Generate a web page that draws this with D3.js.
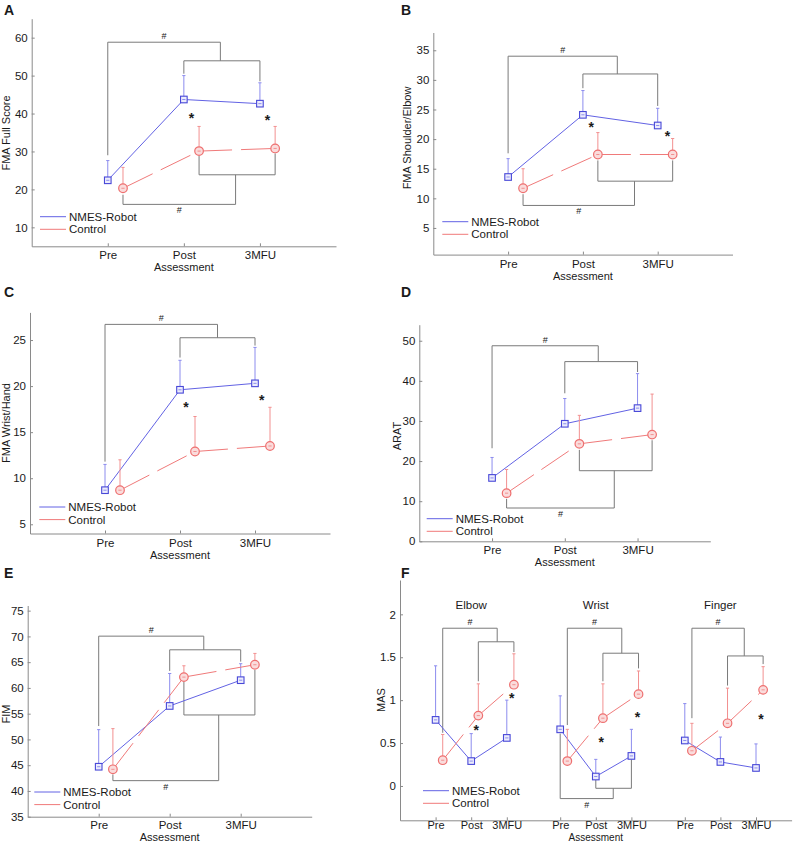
<!DOCTYPE html>
<html><head><meta charset="utf-8">
<script src="https://cdn.jsdelivr.net/npm/d3@7"></script>
<style>
body{margin:0;background:#fff}
svg{display:block}
text{font-family:"Liberation Sans",Arial,Helvetica,sans-serif;fill:#1a1a1a}
</style>
</head><body>
<svg id="chart" width="793" height="843"></svg>
<script>
// ---------------- DATA ----------------
const categories = ["Pre", "Post", "3MFU"];
const seriesNames = ["NMES-Robot", "Control"];
const assessmentTitle = "Assessment";

// Panel A: FMA Full Score (mean, SD)
const fmaFullNmes = [22.4, 43.7, 42.6];
const fmaFullNmesSD = [5.2, 6.3, 5.5];
const fmaFullCtrl = [20.3, 30.1, 30.8];
const fmaFullCtrlSD = [5.5, 6.5, 5.8];
const fmaFullTicks = [10, 20, 30, 40, 50, 60];
// brackets: [x1, x2, barValue, legEnd1, legEnd2, label]
const fmaFullBrackets = [[1, 2.48, 58.8, 29.0, 53.9, "#"], [2, 3, 53.9, 50.5, 48.5, ""],
  [1.2, 2.68, 16.05, 18.6, 23.85, "#"], [2.2, 3.2, 23.85, 28.8, 29.5, ""]];
const fmaFullStars = [[2.10, 39.7], [3.10, 39.05]];

// Panel B: FMA Shoulder/Elbow
const fmaSENmes = [13.6, 24.1, 22.3];
const fmaSENmesSD = [3.1, 4.1, 2.9];
const fmaSECtrl = [11.7, 17.4, 17.4];
const fmaSECtrlSD = [3.3, 3.7, 2.7];
const fmaSETicks = [5, 10, 15, 20, 25, 30, 35];
const fmaSEBrackets = [[1, 2.46, 34.0, 17.6, 31.0, "#"], [2, 3, 31.0, 28.6, 25.6, ""],
  [1.2, 2.69, 8.8, 10.7, 12.9, "#"], [2.2, 3.2, 12.9, 16.4, 16.4, ""]];
const fmaSEStars = [[2.11, 22.5], [3.13, 21.05]];

// Panel C: FMA Wrist/Hand
const fmaWHNmes = [8.7, 19.6, 20.3];
const fmaWHNmesSD = [2.8, 3.2, 3.9];
const fmaWHCtrl = [8.7, 12.9, 13.5];
const fmaWHCtrlSD = [3.3, 3.8, 4.2];
const fmaWHTicks = [5, 10, 15, 20, 25];
const fmaWHBrackets = [[1, 2.5, 26.7, 11.8, 25.25, "#"], [2, 3, 25.25, 23.1, 24.4, ""]];
const fmaWHStars = [[2.08, 18.05], [3.09, 18.8]];

// Panel D: ARAT
const aratNmes = [15.8, 29.3, 33.2];
const aratNmesSD = [5.1, 6.3, 8.6];
const aratCtrl = [12.0, 24.3, 26.6];
const aratCtrlSD = [5.9, 7.1, 10.1];
const aratTicks = [0, 10, 20, 30, 40, 50];
const aratBrackets = [[1, 2.46, 48.75, 23.2, 44.8, "#"], [2, 3, 44.8, 36.9, 42.2, ""],
  [1.2, 2.68, 8.3, 10.6, 17.6, "#"], [2.2, 3.2, 17.6, 22.8, 25.2, ""]];
const aratStars = [];

// Panel E: FIM
const fimNmes = [44.7, 56.5, 61.5];
const fimNmesSD = [7.2, 6.3, 3.2];
const fimCtrl = [44.2, 62.1, 64.5];
const fimCtrlSD = [7.9, 2.2, 2.2];
const fimTicks = [35, 40, 45, 50, 55, 60, 65, 70, 75];
const fimBrackets = [[1, 2.48, 70.05, 52.6, 67.4, "#"], [2, 3, 67.4, 63.3, 65.1, ""],
  [1.2, 2.69, 42.0, 43.2, 54.75, "#"], [2.2, 3.2, 54.75, 61.2, 63.5, ""]];
const fimStars = [];

// Panel F: MAS (Elbow, Wrist, Finger)
const masJoints = ["Elbow", "Wrist", "Finger"];
const masPositions = [[1, 2, 3], [4.5, 5.5, 6.5], [8, 9, 10]];
const masNmes = [[0.77, 0.29, 0.56], [0.66, 0.11, 0.35], [0.53, 0.28, 0.21]];
const masNmesSD = [[0.63, 0.32, 0.44], [0.39, 0.20, 0.31], [0.43, 0.29, 0.28]];
const masCtrl = [[0.30, 0.82, 1.18], [0.29, 0.79, 1.07], [0.41, 0.73, 1.12]];
const masCtrlSD = [[0.30, 0.37, 0.36], [0.37, 0.40, 0.27], [0.32, 0.41, 0.27]];
const masTicks = [0, 0.5, 1, 1.5, 2];
const masBrackets = [[1.2, 2.73, 1.838, 0.62, 1.68, "#"], [2.2, 3.2, 1.68, 1.22, 1.56, ""],
  [4.7, 6.23, 1.838, 0.71, 1.547, "#"], [5.7, 6.7, 1.547, 1.22, 1.37, ""],
  [4.5, 5.99, -0.147, 0.61, -0.027, "#"], [5.5, 6.5, -0.027, 0.07, 0.31, ""],
  [8.2, 9.67, 1.838, 0.79, 1.515, "#"], [9.2, 10.2, 1.515, 1.17, 1.42, ""]];
const masStars = [[2.14, 0.69], [3.14, 1.06], [5.65, 0.544], [6.67, 0.84], [10.14, 0.82]];
const masTitleLevel = 2.11;

const ctrlOffset = 0.2;

// ---------------- STYLE ----------------
const C = {
  blue: "#6262e4", blueMark: "#4848d8", blueErr: "#8c8cee", blueFill: "#ececfc",
  red: "#f07a7a", redMark: "#ee7070", redErr: "#f29090", redFill: "#fadcdc",
  bracket: "#7a7a7a", axis: "#8a8a8a"
};
const svg = d3.select("#chart");

function drawPanel(p) {
  const g = svg.append("g");
  const x = d3.scaleLinear().domain(p.xDomain).range([p.left, p.right]);
  const y = d3.scaleLinear().domain(p.yDomain).range([p.bottom, p.top]);

  // axes
  const ya = g.append("g").attr("transform", `translate(${p.left},0)`)
    .call(d3.axisLeft(y).tickValues(p.yTicks).tickFormat(d => String(d))
      .tickSize(-3).tickSizeOuter(0).tickPadding(4));
  const xa = g.append("g").attr("transform", `translate(0,${p.bottom})`)
    .call(d3.axisBottom(x).tickValues(p.xTicks).tickFormat((d, i) => p.xLabels[i])
      .tickSize(-3).tickSizeOuter(0).tickPadding(p.xPad == null ? 5 : p.xPad));
  [ya, xa].forEach(a => {
    a.select(".domain").attr("stroke", C.axis);
    a.selectAll(".tick line").attr("stroke", C.axis);
    a.selectAll("text").attr("font-size", 11.5).attr("fill", "#1a1a1a")
      .attr("font-family", '"Liberation Sans",Arial,sans-serif');
  });
  if (p.xFont) xa.selectAll("text").attr("font-size", p.xFont);

  // axis titles
  g.append("text").attr("x", x(p.xTitlePos)).attr("y", p.bottom + (p.xTitleGap || 21))
    .attr("text-anchor", "middle").attr("dominant-baseline", "central")
    .attr("font-size", p.xTitleFont || 11).text(assessmentTitle);
  g.append("text").attr("transform", `translate(${p.yLabelX},${p.yLabelY}) rotate(-90)`)
    .attr("text-anchor", "middle").attr("dominant-baseline", "central")
    .attr("font-size", 11).text(p.yLabel);

  // panel letter
  g.append("text").attr("x", p.letterX).attr("y", p.letterY)
    .attr("font-size", 14).attr("font-weight", "bold").attr("fill", "#000").text(p.letter);

  // brackets
  p.brackets.forEach(b => {
    const [x1, x2, bar, e1, e2, lab] = b;
    g.append("path")
      .attr("d", `M${x(x1)},${y(e1)}V${y(bar)}H${x(x2)}V${y(e2)}`)
      .attr("fill", "none").attr("stroke", C.bracket).attr("stroke-width", 1);
    if (lab) {
      const up = bar > e1;
      g.append("text").attr("x", x((x1 + x2) / 2)).attr("y", y(bar) + (up ? -6 : 6))
        .attr("text-anchor", "middle").attr("dominant-baseline", "central")
        .attr("font-size", 9).text(lab);
    }
  });

  // series
  p.groups.forEach(grp => {
    const sets = [
      {pos: grp.pos, mean: grp.nmes, sd: grp.nmesSD, kind: "nmes"},
      {pos: grp.pos.map(v => v + ctrlOffset), mean: grp.ctrl, sd: grp.ctrlSD, kind: "ctrl"}
    ];
    sets.forEach(s => {
      const col = s.kind === "nmes" ? C.blue : C.red;
      const ecol = s.kind === "nmes" ? C.blueErr : C.redErr;
      s.mean.forEach((m, i) => {
        const cx = x(s.pos[i]);
        g.append("line").attr("x1", cx).attr("x2", cx).attr("y1", y(m)).attr("y2", y(m + s.sd[i]))
          .attr("stroke", ecol).attr("stroke-width", 1);
        g.append("line").attr("x1", cx - 1.6).attr("x2", cx + 1.6)
          .attr("y1", y(m + s.sd[i])).attr("y2", y(m + s.sd[i]))
          .attr("stroke", ecol).attr("stroke-width", 1);
      });
      for (let i = 0; i < s.mean.length - 1; i++) {
        g.append("line").attr("x1", x(s.pos[i])).attr("y1", y(s.mean[i]))
          .attr("x2", x(s.pos[i + 1])).attr("y2", y(s.mean[i + 1]))
          .attr("stroke", col).attr("stroke-width", 1)
          .attr("stroke-dasharray", s.kind === "ctrl" ? "33,9" : null);
      }
      s.mean.forEach((m, i) => {
        const cx = x(s.pos[i]), cy = y(m);
        if (s.kind === "nmes") {
          g.append("rect").attr("x", cx - 3.3).attr("y", cy - 3.3).attr("width", 6.6).attr("height", 6.6)
            .attr("fill", C.blueFill).attr("stroke", C.blueMark).attr("stroke-width", 1.1);
        } else {
          g.append("circle").attr("cx", cx).attr("cy", cy).attr("r", 4.3)
            .attr("fill", C.redFill).attr("stroke", C.redMark).attr("stroke-width", 1.2);
        }
        g.append("line").attr("x1", cx - 1.6).attr("x2", cx + 1.6).attr("y1", cy).attr("y2", cy)
          .attr("stroke", ecol).attr("stroke-width", 1);
      });
    });
  });

  // asterisks
  p.stars.forEach(st => {
    g.append("text").attr("x", x(st[0])).attr("y", y(st[1]) + 8)
      .attr("text-anchor", "middle").attr("font-size", 14).attr("font-weight", "bold")
      .attr("fill", "#000").text("*");
  });

  // subgroup titles
  (p.titles || []).forEach(t => {
    g.append("text").attr("x", x(t.x)).attr("y", y(t.y))
      .attr("text-anchor", "middle").attr("dominant-baseline", "central")
      .attr("font-size", 11.5).text(t.text);
  });

  // legend
  const lg = g.append("g");
  [0, 1].forEach(k => {
    const ly = p.legY + k * 12.6;
    lg.append("line").attr("x1", p.legX).attr("x2", p.legX + 26).attr("y1", ly).attr("y2", ly)
      .attr("stroke", k === 0 ? C.blue : C.red).attr("stroke-width", 1);
    lg.append("text").attr("x", p.legX + 29).attr("y", ly).attr("dominant-baseline", "central")
      .attr("font-size", 11.5).text(seriesNames[k]);
  });
}

const basePos = [1, 2, 3];
const stdX = {xTicks: basePos, xLabels: categories, xDomain: [0, 4], xTitlePos: 2};

drawPanel(Object.assign({}, stdX, {
  letter: "A", letterX: 4, letterY: 15,
  left: 31.7, right: 336, top: 18.7, bottom: 246.3, yDomain: [5, 65], yTicks: fmaFullTicks,
  yLabel: "FMA Full Score", yLabelX: 5.5, yLabelY: 133,
  groups: [{pos: basePos, nmes: fmaFullNmes, nmesSD: fmaFullNmesSD, ctrl: fmaFullCtrl, ctrlSD: fmaFullCtrlSD}],
  brackets: fmaFullBrackets, stars: fmaFullStars, legX: 40, legY: 216.7
}));
drawPanel(Object.assign({}, stdX, {
  letter: "B", letterX: 401, letterY: 15,
  left: 433.3, right: 732.5, top: 32.5, bottom: 254.6, yDomain: [0.5, 38], yTicks: fmaSETicks,
  yLabel: "FMA Shoulder/Elbow", yLabelX: 407, yLabelY: 138,
  groups: [{pos: basePos, nmes: fmaSENmes, nmesSD: fmaSENmesSD, ctrl: fmaSECtrl, ctrlSD: fmaSECtrlSD}],
  brackets: fmaSEBrackets, stars: fmaSEStars, legX: 442.3, legY: 221.7
}));
drawPanel(Object.assign({}, stdX, {
  letter: "C", letterX: 4, letterY: 297,
  left: 30, right: 330, top: 312.4, bottom: 533.5, yDomain: [4, 28], yTicks: fmaWHTicks,
  yLabel: "FMA Wrist/Hand", yLabelX: 5.5, yLabelY: 423,
  groups: [{pos: basePos, nmes: fmaWHNmes, nmesSD: fmaWHNmesSD, ctrl: fmaWHCtrl, ctrlSD: fmaWHCtrlSD}],
  brackets: fmaWHBrackets, stars: fmaWHStars, legX: 39.3, legY: 507
}));
drawPanel(Object.assign({}, stdX, {
  letter: "D", letterX: 401, letterY: 297,
  left: 419.3, right: 710.3, top: 324.7, bottom: 541.3, yDomain: [0, 54], yTicks: aratTicks,
  yLabel: "ARAT", yLabelX: 397, yLabelY: 436,
  groups: [{pos: basePos, nmes: aratNmes, nmesSD: aratNmesSD, ctrl: aratCtrl, ctrlSD: aratCtrlSD}],
  brackets: aratBrackets, stars: aratStars, legX: 426.7, legY: 518.7
}));
drawPanel(Object.assign({}, stdX, {
  letter: "E", letterX: 4, letterY: 578,
  left: 27.7, right: 311.7, top: 605.5, bottom: 816.7, yDomain: [35, 76], yTicks: fimTicks,
  yLabel: "FIM", yLabelX: 6, yLabelY: 714, xTitleGap: 20, xPad: 4,
  groups: [{pos: basePos, nmes: fimNmes, nmesSD: fimNmesSD, ctrl: fimCtrl, ctrlSD: fimCtrlSD}],
  brackets: fimBrackets, stars: fimStars, legX: 34.3, legY: 792
}));
drawPanel({
  letter: "F", letterX: 401, letterY: 578,
  left: 400, right: 791.6, top: 580, bottom: 820.3, xDomain: [0, 11], yDomain: [-0.4, 2.4],
  xTicks: masPositions.flat(), xLabels: masPositions.flatMap(() => categories), xTitlePos: 5.5,
  xTitleGap: 16.8, xPad: 1, xFont: 11, xTitleFont: 10,
  yTicks: masTicks, yLabel: "MAS", yLabelX: 380.5, yLabelY: 700,
  groups: masPositions.map((pos, j) => ({pos, nmes: masNmes[j], nmesSD: masNmesSD[j], ctrl: masCtrl[j], ctrlSD: masCtrlSD[j]})),
  brackets: masBrackets, stars: masStars,
  titles: masJoints.map((t, j) => ({text: t, x: masPositions[j][1], y: masTitleLevel})),
  legX: 423, legY: 790.7
});
</script>
</body></html>
